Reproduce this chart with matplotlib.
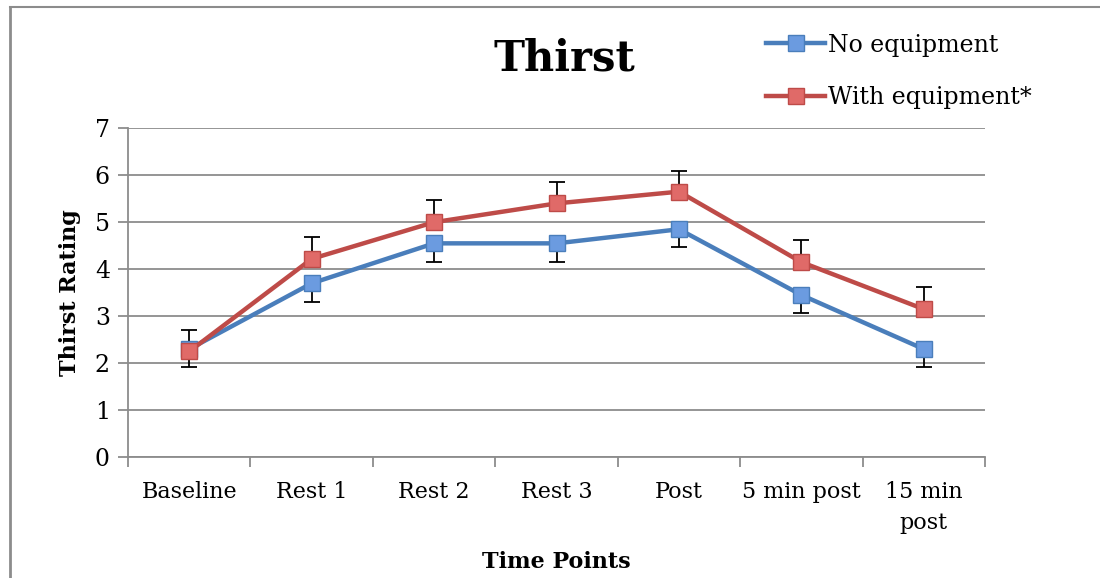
import matplotlib
matplotlib.use('agg')
import matplotlib.pyplot as plt
from matplotlib.lines import Line2D
import numpy as np

categories = ["Baseline", "Rest 1", "Rest 2", "Rest 3", "Post", "5 min post", "15 min\npost"]
no_equip = [2.3, 3.7, 4.55, 4.55, 4.85, 3.45, 2.3]
no_equip_err = [0.38, 0.4, 0.4, 0.4, 0.38, 0.39, 0.39]
with_equip = [2.25, 4.22, 5.0, 5.4, 5.65, 4.15, 3.15]
with_equip_err = [0.45, 0.46, 0.47, 0.45, 0.45, 0.47, 0.47]

BLUE = '#4a7ebb'
BLUE_FACE = '#6b9be0'
RED = '#be4b48'
RED_FACE = '#e06a68'
GRID = '#8c8c8c'
FONT = 'DejaVu Serif'

plt.rcParams['font.family'] = FONT

fig = plt.figure(figsize=(11, 5.78), dpi=100)
ax = fig.add_axes([0.1164, 0.209, 0.7791, 0.5692])

x = np.arange(len(categories))

# one-sided error bars: blue goes down, red goes up
ax.errorbar(x, no_equip, yerr=[no_equip_err, [0] * len(x)], fmt='none',
            ecolor='black', elinewidth=1.3, capsize=6, capthick=1.3, zorder=3)
ax.errorbar(x, with_equip, yerr=[[0] * len(x), with_equip_err], fmt='none',
            ecolor='black', elinewidth=1.3, capsize=6, capthick=1.3, zorder=3)

l1, = ax.plot(x, no_equip, color=BLUE, lw=3.2, marker='s', markersize=11,
              markerfacecolor=BLUE_FACE, markeredgecolor=BLUE, markeredgewidth=1,
              zorder=4, label='No equipment')
l2, = ax.plot(x, with_equip, color=RED, lw=3.2, marker='s', markersize=11,
              markerfacecolor=RED_FACE, markeredgecolor=RED, markeredgewidth=1,
              zorder=5, label='With equipment*')

ax.set_xlim(-0.5, len(x) - 0.5)
ax.set_ylim(0, 7)
ax.set_yticks(range(0, 8))
ax.yaxis.grid(True, color=GRID, lw=1.3)
ax.set_axisbelow(True)

ax.set_xticks(x)
ax.set_xticklabels(categories, fontsize=16, linespacing=1.55)
ax.set_xticks(np.arange(-0.5, len(x)), minor=True)
ax.tick_params(axis='x', which='major', length=0, pad=17)
ax.tick_params(axis='x', which='minor', length=7, width=1.3, color=GRID, direction='out')
ax.tick_params(axis='y', length=7, width=1.3, color=GRID, labelsize=17, pad=6)

for s in ['top', 'right']:
    ax.spines[s].set_visible(False)
for s in ['left', 'bottom']:
    ax.spines[s].set_color(GRID)
    ax.spines[s].set_linewidth(1.3)

ax.set_ylabel('Thirst Rating', fontsize=16, fontweight='bold', labelpad=10)
fig.text(0.506, 0.027, 'Time Points', fontsize=16, fontweight='bold', ha='center', va='center')
fig.text(0.513, 0.898, 'Thirst', fontsize=30, fontweight='bold', ha='center', va='center')

leg = fig.legend(handles=[l1, l2], loc='upper left', bbox_to_anchor=(0.688, 0.958),
                 frameon=False, fontsize=17, handlelength=2.5, labelspacing=1.25,
                 handletextpad=0.1, borderaxespad=0)

# page border visible at top and left
fig.add_artist(Line2D([0.0095, 1.0], [0.988, 0.988], color='#8c8c8c', lw=1.5,
                      transform=fig.transFigure))
fig.add_artist(Line2D([0.0095, 0.0095], [0.0, 0.988], color='#8c8c8c', lw=2,
                      transform=fig.transFigure))

fig.savefig('out.png', dpi=100)
